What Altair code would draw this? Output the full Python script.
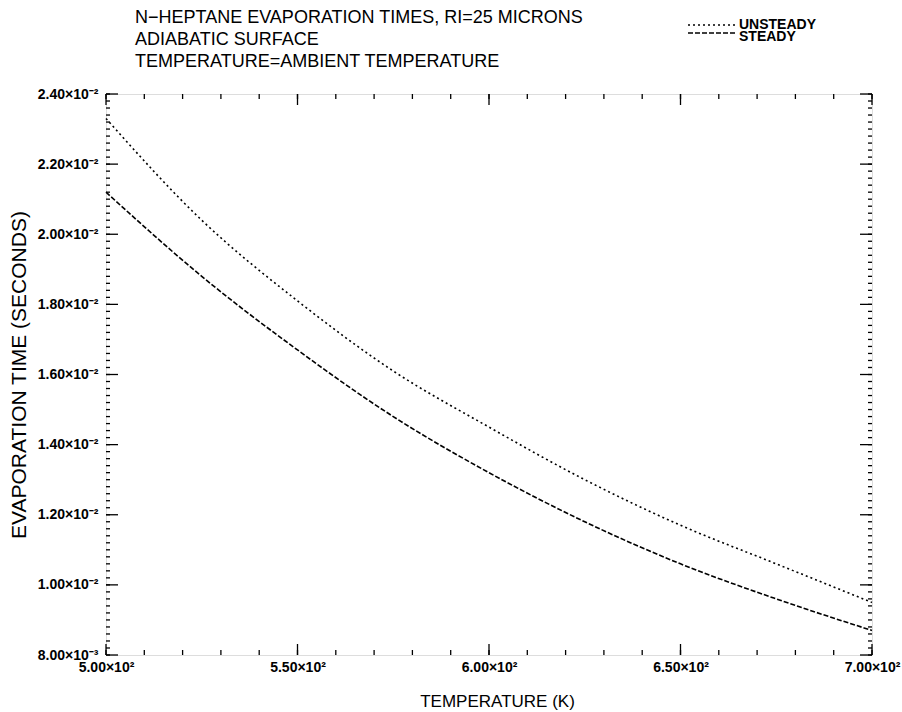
import altair as alt
import pandas as pd

# ---- data ----
temperature = [500, 525, 550, 575, 600, 625, 650, 675, 700]
unsteady = [0.0233, 0.0204, 0.0181, 0.0161, 0.0145, 0.0130, 0.0117, 0.0106, 0.0095]
steady = [0.0212, 0.0188, 0.0167, 0.0148, 0.0132, 0.0118, 0.0106, 0.0096, 0.0087]
series_names = ["UNSTEADY", "STEADY"]

x_tick_values = [500, 550, 600, 650, 700]
x_tick_labels = ["5.00×10²", "5.50×10²", "6.00×10²", "6.50×10²", "7.00×10²"]
y_tick_values = [0.008, 0.010, 0.012, 0.014, 0.016, 0.018, 0.020, 0.022, 0.024]
y_tick_labels = ["8.00×10⁻³", "1.00×10⁻²", "1.20×10⁻²", "1.40×10⁻²", "1.60×10⁻²",
                 "1.80×10⁻²", "2.00×10⁻²", "2.20×10⁻²", "2.40×10⁻²"]
x_minor = list(range(500, 701, 10))
y_minor = [round(0.008 + 0.0002 * i, 5) for i in range(81)]

title_lines = ["N−HEPTANE EVAPORATION TIMES, RI=25 MICRONS",
               "ADIABATIC SURFACE",
               "TEMPERATURE=AMBIENT TEMPERATURE"]

W, H = 766, 561
FONT = "Liberation Sans"

df = pd.DataFrame({
    "T": temperature * 2,
    "t": unsteady + steady,
    "series": [series_names[0]] * len(temperature) + [series_names[1]] * len(temperature),
})

xs = alt.Scale(domain=[500, 700], nice=False, zero=False)
ys = alt.Scale(domain=[0.008, 0.024], nice=False, zero=False)

x_label_expr = "[" + ",".join(f"'{s}'" for s in x_tick_labels) + "][round((datum.value-500)/50)]"
y_label_expr = "[" + ",".join(f"'{s}'" for s in y_tick_labels) + "][round((datum.value-0.008)/0.002)]"

x_axis = alt.Axis(values=x_tick_values, labelExpr=x_label_expr, ticks=False, grid=False,
                  domain=False, labelFont=FONT, labelFontSize=14, labelFontWeight="bold",
                  labelColor="black", labelPadding=5, labelFlush=False, title="TEMPERATURE (K)",
                  titleFont=FONT, titleFontSize=17, titleFontWeight="normal",
                  titleColor="black", titlePadding=19, titleX=391)
y_axis = alt.Axis(values=y_tick_values, labelExpr=y_label_expr, ticks=False, grid=False,
                  domain=False, labelFont=FONT, labelFontSize=14, labelFontWeight="bold",
                  labelColor="black", labelPadding=8, labelFlush=False,
                  title="EVAPORATION TIME (SECONDS)",
                  titleFont=FONT, titleFontSize=21, titleFontWeight="normal",
                  titleColor="black", titlePadding=8)

lines = alt.Chart(df).mark_line(color="black", strokeWidth=1.6, interpolate="monotone").encode(
    x=alt.X("T:Q", scale=xs, axis=x_axis),
    y=alt.Y("t:Q", scale=ys, axis=y_axis),
    strokeDash=alt.StrokeDash("series:N", scale=alt.Scale(domain=series_names,
                                                          range=[[2, 3], [5, 2]]), legend=None),
    detail="series:N",
)

def xticks(vals, length, top):
    d = pd.DataFrame({"v": vals})
    if top:
        yv, y2v = alt.value(0), alt.value(length)
    else:
        yv, y2v = alt.value(H), alt.value(H - length)
    return alt.Chart(d).mark_rule(color="black", strokeWidth=1.3).encode(
        x=alt.X("v:Q", scale=xs), y=yv, y2=y2v)

def yticks(vals, length, right):
    d = pd.DataFrame({"v": vals})
    if right:
        xv, x2v = alt.value(W), alt.value(W - length)
    else:
        xv, x2v = alt.value(0), alt.value(length)
    return alt.Chart(d).mark_rule(color="black", strokeWidth=1.3).encode(
        y=alt.Y("v:Q", scale=ys), x=xv, x2=x2v)

tick_layers = [
    xticks(x_minor, 5, False), xticks(x_tick_values, 11, False),
    xticks(x_minor, 5, True), xticks(x_tick_values, 11, True),
    yticks(y_minor, 4, False), yticks(y_tick_values, 12, False),
    yticks(y_minor, 4, True), yticks(y_tick_values, 12, True),
]

leg_df = pd.DataFrame({"name": series_names})

def leg_line(i, dash, yv):
    return alt.Chart(leg_df.iloc[[i]]).mark_rule(
        color="black", strokeWidth=1.5, strokeDash=dash).encode(
        x=alt.value(582), x2=alt.value(630), y=alt.value(yv))

def leg_text(i, yv):
    return alt.Chart(leg_df.iloc[[i]]).mark_text(
        align="left", baseline="middle", font=FONT, fontSize=14, fontWeight="bold",
        color="black").encode(x=alt.value(633), y=alt.value(yv), text="name:N")

title_df = pd.DataFrame({"line": title_lines})

def title_text(i, yv):
    return alt.Chart(title_df.iloc[[i]]).mark_text(
        align="left", baseline="middle", font=FONT, fontSize=18, fontWeight="normal",
        color="black").encode(x=alt.value(29), y=alt.value(yv), text="line:N")

chart = alt.layer(
    lines, *tick_layers,
    leg_line(0, [2, 3], -69), leg_line(1, [5, 2], -61),
    leg_text(0, -69), leg_text(1, -57.5),
    title_text(0, -76), title_text(1, -54), title_text(2, -32),
).properties(
    width=W, height=H,
    autosize=alt.AutoSizeParams(type="none"),
    padding={"left": 106, "top": 94, "right": 30, "bottom": 57},
).configure_view(stroke="black", strokeWidth=2).configure(background="white")

chart.save("out.html", embed_options={"renderer": "svg", "actions": False})
